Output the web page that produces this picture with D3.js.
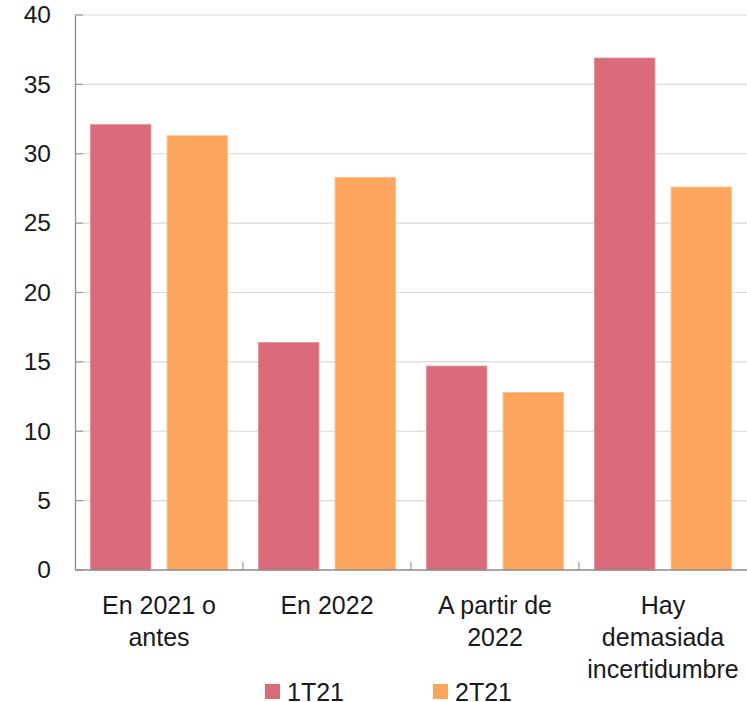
<!DOCTYPE html>
<html>
<head>
<meta charset="utf-8">
<script src="https://cdn.jsdelivr.net/npm/d3@7"></script>
<style>
  html, body { margin: 0; padding: 0; background: #fff; }
  svg { display: block; font-family: "Liberation Sans", Arial, Helvetica, sans-serif; }
</style>
</head>
<body>
<svg id="chart" width="747" height="702"></svg>
<script>
// Categories (multi-line labels) and series values
const categories = [
  ["En 2021 o", "antes"],
  ["En 2022"],
  ["A partir de", "2022"],
  ["Hay", "demasiada", "incertidumbre"]
];
const seriesNames = ["1T21", "2T21"];
const values1T21 = [32.1, 16.4, 14.7, 36.9];
const values2T21 = [31.3, 28.3, 12.8, 27.6];
const yTicks = [0, 5, 10, 15, 20, 25, 30, 35, 40];
const colors = ["#da6b7a", "#fea55d"];
const strokeColors = ["#e8909b", "#ffc08f"];

const svg = d3.select("#chart");
const margin = { left: 75, right: 0, top: 15, bottom: 132 };
const width = 747, height = 702;
const plotBottom = height - margin.bottom; // 570

const x = d3.scaleBand()
  .domain(d3.range(categories.length))
  .range([margin.left, width])
  .paddingInner(0)
  .paddingOuter(0);

const xSub = d3.scaleBand()
  .domain(seriesNames)
  .range([0, x.bandwidth()])
  .paddingInner(0.21)
  .paddingOuter(0.2);

const y = d3.scaleLinear().domain([0, 40]).range([plotBottom, margin.top]);

// Gridlines
svg.append("g")
  .selectAll("line")
  .data(yTicks.filter(d => d > 0))
  .join("line")
  .attr("x1", margin.left)
  .attr("x2", width)
  .attr("y1", d => y(d))
  .attr("y2", d => y(d))
  .attr("stroke", "#d9d9d9")
  .attr("stroke-width", 1.2);

// Y axis
const yAxis = d3.axisLeft(y).tickValues(yTicks).tickSize(0).tickPadding(24);
const gy = svg.append("g").attr("transform", `translate(${margin.left},0)`).call(yAxis);
gy.select(".domain").attr("stroke", "#8c8c8c").attr("stroke-width", 1.3);
gy.selectAll(".tick text")
  .attr("font-size", 24.5)
  .attr("fill", "#1a1a1a")
  .attr("font-family", "'Liberation Sans', Arial, sans-serif");

// Small tick marks on y axis (inside the plot)
svg.append("g")
  .selectAll("line")
  .data(yTicks)
  .join("line")
  .attr("x1", margin.left)
  .attr("x2", margin.left + 8)
  .attr("y1", d => y(d))
  .attr("y2", d => y(d))
  .attr("stroke", "#9a9a9a")
  .attr("stroke-width", 1.2);

// Bars
const rows = categories.map((c, i) => ({ i, vals: [values1T21[i], values2T21[i]] }));
const groups = svg.append("g")
  .selectAll("g")
  .data(rows)
  .join("g")
  .attr("transform", d => `translate(${x(d.i)},0)`);

groups.selectAll("rect")
  .data(d => d.vals.map((v, k) => ({ k, v })))
  .join("rect")
  .attr("x", d => xSub(seriesNames[d.k]))
  .attr("width", xSub.bandwidth())
  .attr("y", d => y(d.v))
  .attr("height", d => plotBottom - y(d.v))
  .attr("fill", d => colors[d.k])
  .attr("stroke", d => strokeColors[d.k])
  .attr("stroke-width", 0.8);

// X axis line
svg.append("line")
  .attr("x1", margin.left)
  .attr("x2", width)
  .attr("y1", plotBottom)
  .attr("y2", plotBottom)
  .attr("stroke", "#8c8c8c")
  .attr("stroke-width", 1.3);

// Category separator ticks (upward)
svg.append("g")
  .selectAll("line")
  .data(d3.range(1, categories.length))
  .join("line")
  .attr("x1", d => x(d))
  .attr("x2", d => x(d))
  .attr("y1", plotBottom)
  .attr("y2", plotBottom - 8)
  .attr("stroke", "#9a9a9a")
  .attr("stroke-width", 1.2);

// Category labels
const labels = svg.append("g")
  .selectAll("text")
  .data(categories)
  .join("text")
  .attr("x", (d, i) => x(i) + x.bandwidth() / 2)
  .attr("y", 614)
  .attr("text-anchor", "middle")
  .attr("font-size", 25)
  .attr("fill", "#1a1a1a");
labels.selectAll("tspan")
  .data(d => d)
  .join("tspan")
  .attr("x", function () { return d3.select(this.parentNode).attr("x"); })
  .attr("dy", (d, j) => j === 0 ? 0 : 32)
  .text(d => d);

// Legend
const legendX = [265, 433];
const legend = svg.append("g")
  .selectAll("g")
  .data(seriesNames)
  .join("g")
  .attr("transform", (d, i) => `translate(${legendX[i]},684)`);
legend.append("rect")
  .attr("width", 15)
  .attr("height", 15)
  .attr("fill", (d, i) => colors[i]);
legend.append("text")
  .attr("x", 22)
  .attr("y", 17)
  .attr("font-size", 25)
  .attr("fill", "#1a1a1a")
  .text(d => d);
</script>
</body>
</html>
